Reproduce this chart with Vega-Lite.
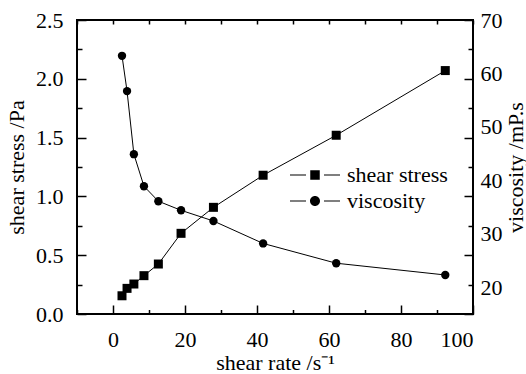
{
  "$schema": "https://vega.github.io/schema/vega-lite/v6.json",
  "width": 396,
  "height": 294,
  "autosize": {"type": "none"},
  "padding": {"left": 77, "top": 20, "right": 53, "bottom": 60},
  "config": {
    "font": "Liberation Serif",
    "view": {"stroke": "black", "strokeWidth": 2},
    "axis": {
      "domain": false,
      "labelFont": "Liberation Serif",
      "labelFontSize": 22,
      "labelColor": "black",
      "titleFont": "Liberation Serif",
      "titleFontSize": 22,
      "titleFontWeight": "normal",
      "titleColor": "black"
    }
  },
  "data": {
    "values": [
      {"rate": 2.5, "stress": 0.155, "visc": 63.3},
      {"rate": 3.9, "stress": 0.218, "visc": 56.7},
      {"rate": 5.8, "stress": 0.255, "visc": 44.9},
      {"rate": 8.6, "stress": 0.326, "visc": 38.9},
      {"rate": 12.6, "stress": 0.425, "visc": 36.1},
      {"rate": 18.9, "stress": 0.686, "visc": 34.4},
      {"rate": 27.9, "stress": 0.907, "visc": 32.4},
      {"rate": 41.7, "stress": 1.18, "visc": 28.2},
      {"rate": 62.0, "stress": 1.52, "visc": 24.5},
      {"rate": 92.3, "stress": 2.07, "visc": 22.3}
    ]
  },
  "layer": [
    {
      "mark": {"type": "line", "color": "black", "strokeWidth": 1, "point": {"shape": "square", "size": 81, "filled": true, "color": "black", "opacity": 1}},
      "encoding": {
        "x": {"field": "rate", "type": "quantitative", "scale": {"domain": [-10, 100], "nice": false, "zero": false},
          "axis": {"orient": "bottom", "values": [0, 20, 40, 60, 80, 100], "grid": false, "ticks": false, "labelPadding": 15, "title": "shear rate /s⁻¹", "titlePadding": 2}},
        "y": {"field": "stress", "type": "quantitative", "scale": {"domain": [0, 2.5], "nice": false, "zero": false},
          "axis": {"orient": "left", "values": [0, 0.5, 1, 1.5, 2, 2.5], "format": ".1f", "grid": false, "ticks": false, "labelPadding": 14, "title": "shear stress /Pa", "titlePadding": 7}}
      }
    },
    {
      "mark": {"type": "line", "color": "black", "strokeWidth": 1, "point": {"shape": "circle", "size": 70, "filled": true, "color": "black", "opacity": 1}},
      "encoding": {
        "x": {"field": "rate", "type": "quantitative", "scale": {"domain": [-10, 100], "nice": false, "zero": false},
          "axis": {"orient": "top", "tickCount": 11, "grid": false, "ticks": true, "tickSize": 4, "offset": -4, "tickColor": "black", "tickWidth": 1.5, "labels": false, "title": null}},
        "y": {"field": "visc", "type": "quantitative", "scale": {"domain": [15, 70], "nice": false, "zero": false},
          "axis": {"orient": "right", "values": [20, 30, 40, 50, 60, 70], "grid": false, "ticks": false, "labelPadding": 7, "title": "viscosity /mP.s", "titleAngle": 270, "titlePadding": 25}}
      }
    },
    {
      "mark": {"type": "point", "opacity": 0},
      "encoding": {
        "x": {"field": "rate", "type": "quantitative", "scale": {"domain": [-10, 100], "nice": false, "zero": false},
          "axis": {"orient": "bottom", "tickCount": 6, "grid": false, "ticks": true, "tickSize": 9, "offset": -9, "tickColor": "black", "tickWidth": 1.5, "labels": false, "title": null}},
        "y": {"field": "stress", "type": "quantitative", "scale": {"domain": [0, 2.5], "nice": false, "zero": false},
          "axis": {"orient": "left", "tickCount": 6, "grid": true, "gridColor": "black", "gridWidth": 1.5, "gridOpacity": 1, "gridDash": [9, 1000], "ticks": false, "labels": false, "title": null}}
      }
    },
    {
      "mark": {"type": "point", "opacity": 0},
      "encoding": {
        "x": {"field": "rate", "type": "quantitative", "scale": {"domain": [-10, 100], "nice": false, "zero": false},
          "axis": {"orient": "bottom", "values": [-10, 10, 30, 50, 70, 90], "grid": false, "ticks": true, "tickSize": 4.5, "offset": -4.5, "tickColor": "black", "tickWidth": 1.5, "labels": false, "title": null}},
        "y": {"field": "stress", "type": "quantitative", "scale": {"domain": [0, 2.5], "nice": false, "zero": false},
          "axis": {"orient": "left", "values": [0.25, 0.75, 1.25, 1.75, 2.25], "grid": false, "ticks": true, "tickSize": 5, "offset": -5, "tickColor": "black", "tickWidth": 1.5, "labels": false, "title": null}}
      }
    },
    {
      "mark": {"type": "point", "opacity": 0},
      "encoding": {
        "x": {"field": "rate", "type": "quantitative", "scale": {"domain": [-10, 100], "nice": false, "zero": false}, "axis": null},
        "y": {"field": "stress", "type": "quantitative", "scale": {"domain": [0, 2.5], "nice": false, "zero": false},
          "axis": {"orient": "right", "tickCount": 6, "grid": false, "ticks": true, "tickSize": 9, "offset": -9, "tickColor": "black", "tickWidth": 1.5, "labels": false, "title": null}}
      }
    },
    {
      "mark": {"type": "point", "opacity": 0},
      "encoding": {
        "x": {"field": "rate", "type": "quantitative", "scale": {"domain": [-10, 100], "nice": false, "zero": false}, "axis": null},
        "y": {"field": "stress", "type": "quantitative", "scale": {"domain": [0, 2.5], "nice": false, "zero": false},
          "axis": {"orient": "right", "values": [0.25, 0.75, 1.25, 1.75, 2.25], "grid": false, "ticks": true, "tickSize": 5, "offset": -5, "tickColor": "black", "tickWidth": 1.5, "labels": false, "title": null}}
      }
    },
    {
      "data": {"values": [{"series": "shear stress"}, {"series": "viscosity"}]},
      "mark": {"type": "point", "filled": true, "color": "black", "opacity": 0},
      "encoding": {
        "shape": {"field": "series", "type": "nominal",
          "scale": {"domain": ["shear stress", "viscosity"],
            "range": ["M-1,-0.02H-0.36V0.02H-1ZM0.36,-0.02H1V0.02H0.36ZM-0.19,-0.19H0.19V0.19H-0.19Z",
                      "M-1,-0.02H-0.36V0.02H-1ZM0.36,-0.02H1V0.02H0.36ZM-0.2,0A0.2,0.2,0,1,1,0.2,0A0.2,0.2,0,1,1,-0.2,0Z"]},
          "legend": {"title": null, "orient": "none", "legendX": 213, "legendY": 144, "padding": 0,
            "symbolSize": 2500, "clipHeight": 22, "rowPadding": 4, "labelOffset": 7,
            "symbolFillColor": "black", "symbolStrokeColor": "black", "symbolStrokeWidth": 0, "symbolOpacity": 1,
            "labelFont": "Liberation Serif", "labelFontSize": 22, "labelColor": "black"}}
      }
    }
  ],
  "resolve": {"scale": {"y": "independent"}, "axis": {"x": "independent", "y": "independent"}}
}
